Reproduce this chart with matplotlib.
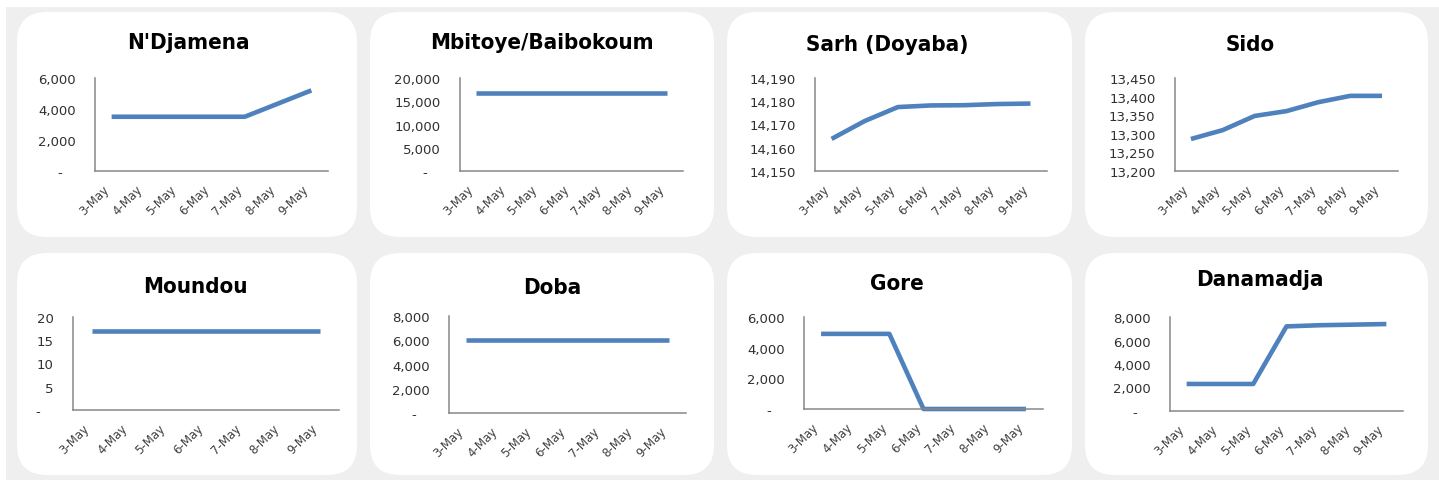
import matplotlib.pyplot as plt
import matplotlib.transforms as mtransforms
from matplotlib.patches import FancyBboxPatch, Rectangle
from matplotlib.ticker import FuncFormatter

days = ["3-May", "4-May", "5-May", "6-May", "7-May", "8-May", "9-May"]

ndjamena = [3500, 3500, 3500, 3500, 3500, 4350, 5200]
mbitoye = [16800, 16800, 16800, 16800, 16800, 16800, 16800]
sarh = [14163.8, 14171.5, 14177.5, 14178.2, 14178.3, 14178.8, 14179]
sido = [13286, 13310, 13348, 13361, 13385, 13402, 13402]
moundou = [17, 17, 17, 17, 17, 17, 17]
doba = [6050, 6050, 6050, 6050, 6050, 6050, 6050]
gore = [4900, 4900, 4900, 0, 0, 0, 0]
danamadja = [2300, 2300, 2300, 7200, 7300, 7350, 7400]

titles = ["N'Djamena", "Mbitoye/Baibokoum", "Sarh (Doyaba)", "Sido",
          "Moundou", "Doba", "Gore", "Danamadja"]
series = [ndjamena, mbitoye, sarh, sido, moundou, doba, gore, danamadja]
yticks = [range(0, 6001, 2000), range(0, 20001, 5000), range(14150, 14191, 10),
          range(13200, 13451, 50), range(0, 21, 5), range(0, 8001, 2000),
          range(0, 6001, 2000), range(0, 8001, 2000)]

W, H = 1439, 481
# axes boxes in pixels: left, right, top, bottom
boxes = [(95, 328, 79, 172), (460, 683, 79, 172), (815, 1047, 79, 172),
         (1175, 1398, 79, 172), (73, 339, 318, 411), (449, 686, 317, 414),
         (804, 1043, 318, 410), (1170, 1403, 318, 412)]
title_pos = [(188, 43), (542, 43), (887, 45), (1250, 45),
             (195, 287), (552, 288), (897, 284), (1260, 280)]
panels_x = [(17, 357), (370, 714), (727, 1072), (1085, 1428)]
panels_y = [(13, 238), (254, 476)]

blue = "#4f81bd"
gray = "#878787"

fig = plt.figure(figsize=(W / 100, H / 100), dpi=100)
fig.patch.set_facecolor("#efefef")

# white strips at top and left edge
fig.patches.append(Rectangle((0, (H - 8) / 100), W / 100, 8 / 100, transform=fig.dpi_scale_trans,
                             facecolor="white", edgecolor="none", zorder=-2))
fig.patches.append(Rectangle((0, 0), 6 / 100, H / 100, transform=fig.dpi_scale_trans,
                             facecolor="white", edgecolor="none", zorder=-2))

for y0, y1 in panels_y:
    for x0, x1 in panels_x:
        r = 30
        p = FancyBboxPatch(((x0 + r) / 100, (H - y1 + r) / 100), (x1 - x0 - 2 * r) / 100,
                           (y1 - y0 - 2 * r) / 100, boxstyle=f"round,pad={r / 100}",
                           transform=fig.dpi_scale_trans, facecolor="white", edgecolor="none",
                           zorder=-2)
        fig.patches.append(p)


def fmt(v, pos):
    if v == 0:
        return "-   "
    return f"{v:,.0f}"


for i in range(8):
    l, r, t, b = boxes[i]
    ax = fig.add_axes([l / W, 1 - b / H, (r - l) / W, (b - t) / H])
    ax.patch.set_alpha(0)
    ax.plot(range(7), series[i], color=blue, lw=3.3, solid_capstyle="butt", clip_on=False)
    ax.set_xlim(-0.5, 6.5)
    yt = list(yticks[i])
    ax.set_ylim(yt[0], yt[-1])
    ax.set_yticks(yt)
    ax.yaxis.set_major_formatter(FuncFormatter(fmt))
    ax.set_xticks(range(7))
    ax.set_xticklabels(days, rotation=45, ha="right", va="top", fontsize=8.5, color="#404040")
    off = mtransforms.ScaledTranslation(5 / 100, 0, fig.dpi_scale_trans)
    for lab in ax.get_xticklabels():
        lab.set_transform(lab.get_transform() + off)
    ax.tick_params(axis="y", length=0, pad=14, labelsize=9.5, labelcolor="#303030")
    ax.tick_params(axis="x", length=0, pad=8)
    for s in ["top", "right"]:
        ax.spines[s].set_visible(False)
    for s in ["left", "bottom"]:
        ax.spines[s].set_color(gray)
        ax.spines[s].set_linewidth(1.1)
    tx, ty = title_pos[i]
    fig.text(tx / W, 1 - ty / H, titles[i], ha="center", va="center", fontsize=16,
             fontweight="bold", fontstretch="condensed", family="DejaVu Sans")

fig.savefig("out.png", dpi=100, facecolor=fig.get_facecolor())
